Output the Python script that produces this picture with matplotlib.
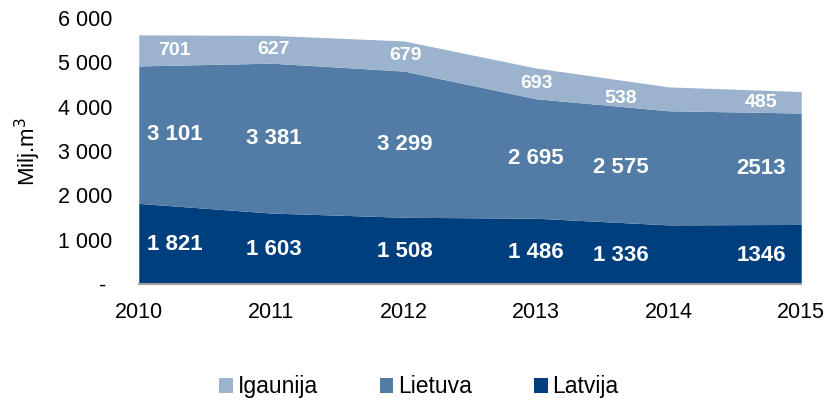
import numpy as np
import matplotlib.pyplot as plt
from matplotlib.ticker import FuncFormatter

plt.rcParams['font.family'] = ['Liberation Sans', 'DejaVu Sans']

years = [2010, 2011, 2012, 2013, 2014, 2015]
latvija = [1821, 1603, 1508, 1486, 1336, 1346]
lietuva = [3101, 3381, 3299, 2695, 2575, 2513]
igaunija = [701, 627, 679, 693, 538, 485]

latvija_lbl = ['1 821', '1 603', '1 508', '1 486', '1 336', '1346']
lietuva_lbl = ['3 101', '3 381', '3 299', '2 695', '2 575', '2513']
igaunija_lbl = ['701', '627', '679', '693', '538', '485']

c_lat = '#003F7D'
c_lie = '#527CA6'
c_iga = '#9BB3CC'

fig = plt.figure(figsize=(8.26, 4.03), dpi=100)
ax = fig.add_axes([0.168, 0.295, 0.802, 0.66])

x = np.array(years)
lat = np.array(latvija)
lie = np.array(lietuva)
iga = np.array(igaunija)

ax.fill_between(x, 0, lat, color=c_lat, lw=0, label='Latvija')
ax.fill_between(x, lat, lat + lie, color=c_lie, lw=0, label='Lietuva')
ax.fill_between(x, lat + lie, lat + lie + iga, color=c_iga, lw=0, label='Igaunija')

# label x shifts so edge labels sit inside the area
shift = [0.27, 0.02, 0.01, 0.0, -0.36, -0.3]
for i in range(len(years)):
    xi = years[i] + shift[i]
    kw = dict(ha='center', va='center', color='white', fontweight='bold')
    ax.text(xi, lat[i] / 2 - 20, latvija_lbl[i], fontsize=16, **kw)
    ax.text(xi, lat[i] + lie[i] / 2, lietuva_lbl[i], fontsize=16, **kw)
    ax.text(xi, lat[i] + lie[i] + iga[i] / 2, igaunija_lbl[i], fontsize=14, **kw)

ax.set_xlim(2010, 2015)
ax.set_ylim(0, 6000)
ax.set_xticks(years)
ax.set_yticks(range(0, 6001, 1000))


def fmt(v, pos):
    if v == 0:
        return '- '
    return f'{int(v):,}'.replace(',', ' ')


ax.yaxis.set_major_formatter(FuncFormatter(fmt))
ax.tick_params(axis='both', length=0, labelsize=15.5)
ax.tick_params(axis='y', pad=19)
ax.tick_params(axis='x', pad=13)
for s in ['left', 'right', 'top']:
    ax.spines[s].set_visible(False)
ax.spines['bottom'].set_color('#A0A0A0')
ax.spines['bottom'].set_linewidth(1.5)
ax.set_ylabel('Milj.m$^3$', fontsize=16)
ax.yaxis.set_label_coords(-0.144, 0.5)

h, l = ax.get_legend_handles_labels()
fig.legend(h[::-1], l[::-1], loc='center', bbox_to_anchor=(0.507, 0.04), ncol=3,
           frameon=False, fontsize=16.5, handlelength=0.6, handleheight=0.6,
           handletextpad=0.2, columnspacing=2.7)

fig.savefig('out.png', dpi=100)
